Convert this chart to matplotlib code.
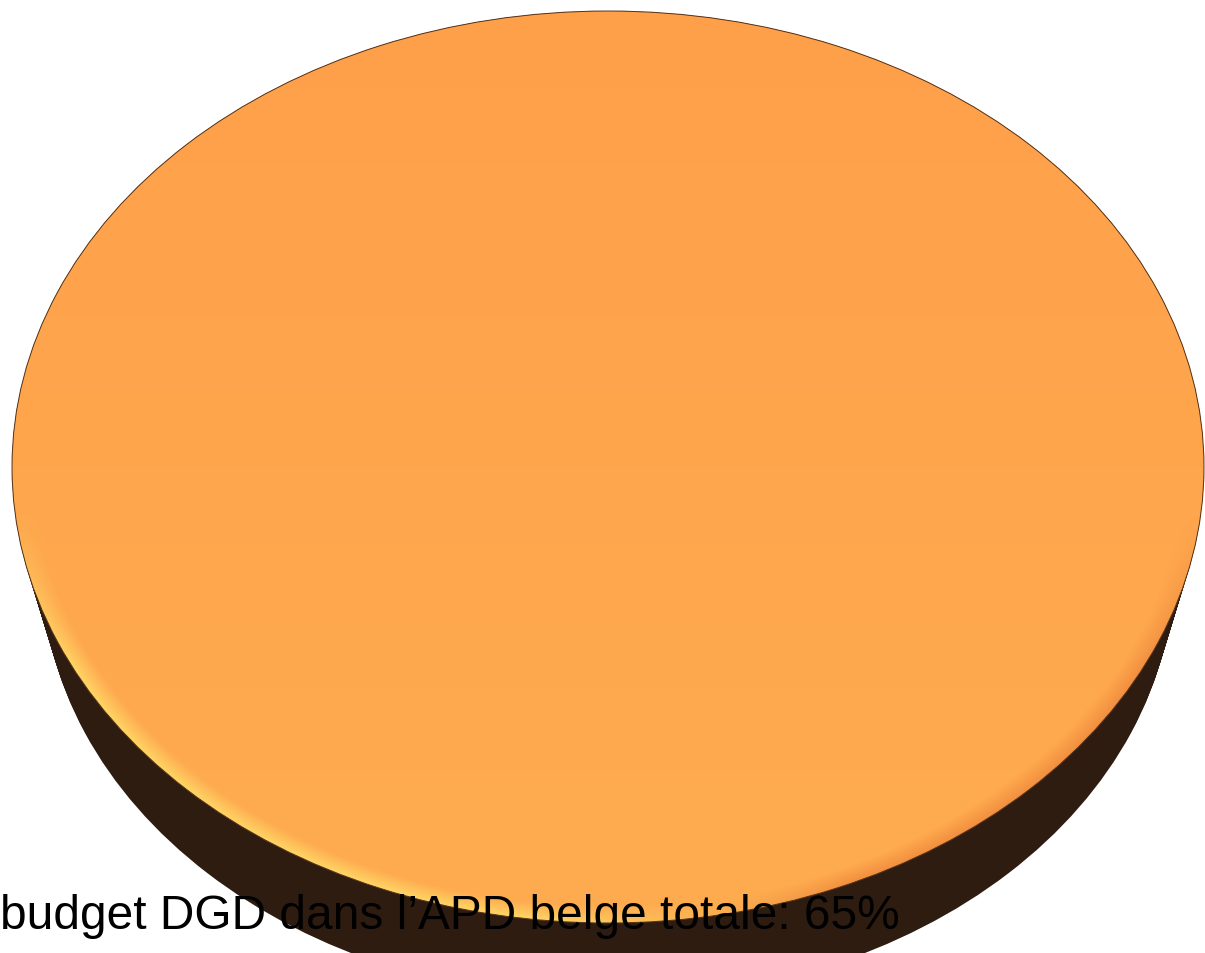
import matplotlib.pyplot as plt
import numpy as np

# single-slice 3D pie
labels = ["budget DGD dans l\u2019APD belge totale: 65%"]
values = [65]

top_color = '#FEA34B'
side_color = '#2E1C11'

fig = plt.figure(figsize=(12.05, 9.54), dpi=100)
ax = fig.add_axes([0, 0, 1, 1])

# side of the disc: dark pies stacked from the bottom face up to the top face
depth = 100 / 456
bottom_r = 0.95
for k in np.linspace(1, 0, 40):
    ax.pie(values, colors=[side_color], center=(0, -depth * k), radius=1 - (1 - bottom_r) * k,
           startangle=90, wedgeprops=dict(linewidth=0))

# top face
wedges, _ = ax.pie(values, colors=[top_color], startangle=90,
                   wedgeprops=dict(linewidth=0.7, edgecolor='#5a3418'))

# shading on the top face, clipped to the wedge
n = 500
xs = np.linspace(-1, 1, n)
ys = np.linspace(-1, 1, n)
X, Y = np.meshgrid(xs, ys)
R = np.sqrt(X ** 2 + Y ** 2)
base = np.array([0xFE, 0xA0, 0x4A]) / 255
low = np.array([0xFF, 0xAC, 0x50]) / 255
t = ((1 - Y) / 2)[..., None]
img = base * (1 - t) + low * t
rim = np.clip((R - 0.965) / 0.035, 0, 1)[..., None] * np.clip(-(Y + 0.1) * 3, 0, 1)[..., None]
yellow = np.array([0xFF, 0xD4, 0x64]) / 255
dark = np.array([0xF2, 0x90, 0x40]) / 255
side_mix = np.clip((X + 0.1) * 2, 0, 1)[..., None]
rim_col = yellow * (1 - side_mix) + dark * side_mix
img = img * (1 - rim) + rim_col * rim
im = ax.imshow(img, extent=(-1, 1, -1, 1), origin='lower', interpolation='bilinear', zorder=3)
im.set_clip_path(wedges[0])
wedges[0].set_zorder(4)
wedges[0].set_facecolor('none')

ax.set_aspect('auto')
ax.set_xlim(-608 / 596, 597 / 596)
ax.set_ylim(-486 / 456, 468 / 456)
ax.axis('off')

fig.text(0.0, 1 - 929 / 954, labels[0], fontsize=34.5, family='Liberation Sans',
         color='black', ha='left', va='baseline', zorder=10)

fig.savefig('out.png', dpi=100)
